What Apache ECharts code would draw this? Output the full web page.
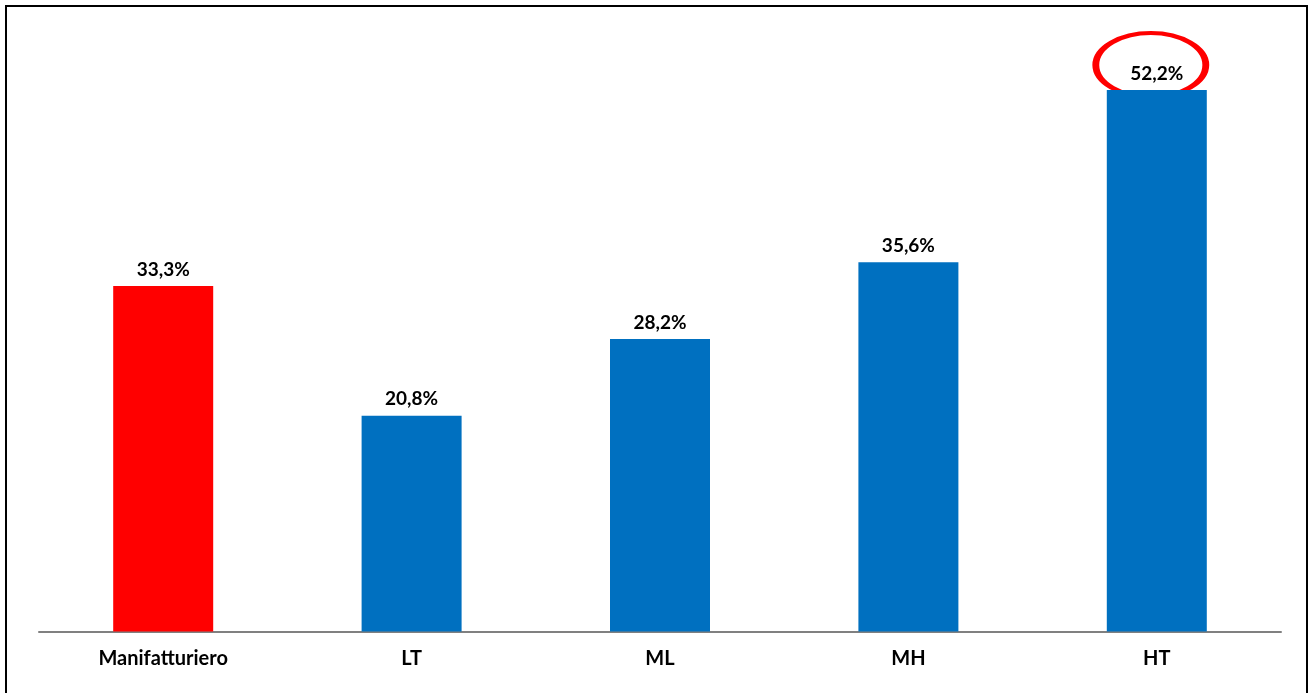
<!DOCTYPE html>
<html><head><meta charset="utf-8">
<script src="https://cdn.jsdelivr.net/npm/echarts@6/dist/echarts.min.js"></script>
<style>html,body{margin:0;padding:0;background:#fff;}#c{width:1313px;height:693px;}</style>
</head><body><div id="c"></div>
<script>
var categories = ["Manifatturiero", "LT", "ML", "MH", "HT"];
var values = [33.3, 20.8, 28.2, 35.6, 52.2];
var barColors = ["#FF0000", "#0070C0", "#0070C0", "#0070C0", "#0070C0"];
var highlightIndex = 4;

var font = "Lato, 'Open Sans', sans-serif";
var chart = echarts.init(document.getElementById('c'), null, {renderer: 'canvas'});
chart.setOption({
  animation: false,
  backgroundColor: '#fff',
  grid: {left: 39, right: 32, top: 9, bottom: 61.5, containLabel: false},
  xAxis: {
    type: 'category', data: categories,
    axisLine: {lineStyle: {color: '#808080', width: 2}},
    axisTick: {show: false},
    axisLabel: {color: '#000', fontWeight: 'bold', fontSize: 20, fontFamily: font, margin: 17}
  },
  yAxis: {type: 'value', min: 0, max: 60, show: false, splitLine: {show: false}},
  series: [{
    type: 'bar', barWidth: 100,
    data: values.map(function (v, i) { return {value: v, itemStyle: {color: barColors[i]}}; }),
    label: {
      show: true, position: 'top', distance: 7, color: '#000', fontWeight: 'bold', fontSize: 19, fontFamily: font,
      formatter: function (p) { return p.value.toFixed(1).replace('.', ',') + '%'; }
    }
  }]
});
var pt = chart.convertToPixel({seriesIndex: 0}, [highlightIndex, values[highlightIndex]]);
chart.setOption({
  graphic: [
    {type: 'rect', shape: {x: 6, y: 6, width: 1301, height: 692}, style: {fill: 'none', stroke: '#000', lineWidth: 2}, silent: true},
    {type: 'circle', x: pt[0] - 6, y: pt[1] - 25, scaleX: 55 / 32, scaleY: 1,
     shape: {cx: 0, cy: 0, r: 32}, style: {fill: 'none', stroke: '#FF0000', lineWidth: 4, strokeNoScale: true}, silent: true}
  ]
});
</script></body></html>
